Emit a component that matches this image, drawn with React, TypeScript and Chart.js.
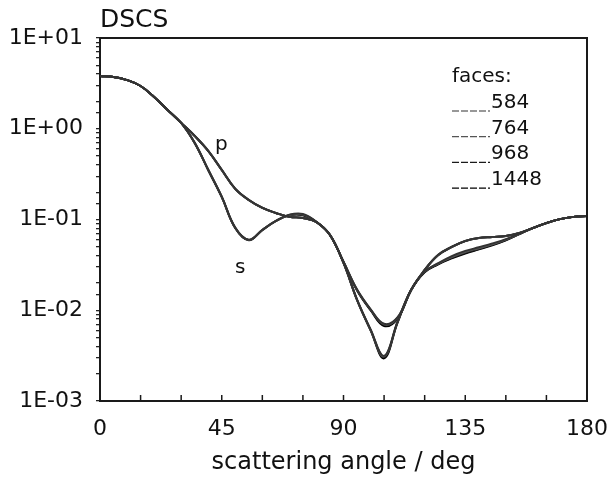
import React, { useEffect, useRef } from 'react';
import { Chart, registerables } from 'chart.js';

Chart.register(...registerables);

// scattering angle (deg)
const angles = [0, 5, 10, 15, 20, 25, 30, 35, 40, 45, 50, 55, 60, 65, 70, 75, 80, 85, 90, 95, 100, 105, 110, 115, 120, 125, 130, 135, 140, 145, 150, 155, 160, 165, 170, 175, 180];

const faces = ['584', '764', '968', '1448'];
const faceColors = ['#333333', '#555555', '#1a1a1a', '#000000'];

// p polarisation, per number of faces
const p584 = [3.81, 3.72, 3.44, 2.96, 2.24, 1.61, 1.16, 0.84, 0.575, 0.355, 0.219, 0.165, 0.135, 0.118, 0.107, 0.104, 0.094, 0.068, 0.0345, 0.0170, 0.0103, 0.0071, 0.0084, 0.0168, 0.0280, 0.0410, 0.0502, 0.0582, 0.0628, 0.0644, 0.0660, 0.0712, 0.0805, 0.0914, 0.101, 0.107, 0.109];
const p764 = [3.81, 3.72, 3.44, 2.96, 2.24, 1.61, 1.16, 0.835, 0.572, 0.352, 0.218, 0.164, 0.134, 0.118, 0.107, 0.104, 0.0938, 0.0676, 0.0342, 0.0168, 0.0102, 0.0070, 0.0083, 0.0167, 0.0279, 0.0408, 0.0500, 0.0580, 0.0626, 0.0642, 0.0659, 0.0711, 0.0805, 0.0914, 0.101, 0.107, 0.109];
const p968 = [3.81, 3.72, 3.44, 2.96, 2.24, 1.61, 1.16, 0.832, 0.569, 0.351, 0.217, 0.164, 0.134, 0.118, 0.107, 0.104, 0.0938, 0.0675, 0.0340, 0.0167, 0.0101, 0.0069, 0.0082, 0.0167, 0.0278, 0.0406, 0.0498, 0.0579, 0.0625, 0.0641, 0.0658, 0.0710, 0.0805, 0.0914, 0.101, 0.107, 0.109];
const p1448 = [3.81, 3.72, 3.44, 2.96, 2.24, 1.61, 1.16, 0.828, 0.566, 0.349, 0.216, 0.163, 0.134, 0.118, 0.107, 0.104, 0.0936, 0.0672, 0.0338, 0.0165, 0.0100, 0.0067, 0.0081, 0.0166, 0.0276, 0.0404, 0.0496, 0.0577, 0.0624, 0.0640, 0.0657, 0.0709, 0.0804, 0.0913, 0.101, 0.107, 0.109];

// s polarisation, per number of faces
const s584 = [3.81, 3.72, 3.44, 2.96, 2.24, 1.61, 1.16, 0.705, 0.356, 0.180, 0.0815, 0.0600, 0.0772, 0.0968, 0.113, 0.115, 0.0945, 0.0680, 0.0336, 0.0132, 0.0062, 0.00315, 0.0076, 0.0170, 0.0268, 0.0330, 0.0395, 0.0450, 0.0495, 0.0545, 0.0608, 0.0700, 0.0808, 0.0915, 0.101, 0.107, 0.109];
const s764 = [3.81, 3.72, 3.44, 2.96, 2.24, 1.61, 1.16, 0.700, 0.353, 0.178, 0.0810, 0.0597, 0.0768, 0.0965, 0.112, 0.113, 0.0940, 0.0677, 0.0334, 0.0131, 0.0061, 0.00310, 0.0075, 0.0168, 0.0266, 0.0327, 0.0385, 0.0438, 0.0482, 0.0532, 0.0600, 0.0696, 0.0806, 0.0914, 0.101, 0.107, 0.109];
const s968 = [3.81, 3.72, 3.44, 2.96, 2.24, 1.61, 1.16, 0.697, 0.351, 0.177, 0.0805, 0.0594, 0.0766, 0.0962, 0.112, 0.112, 0.0938, 0.0675, 0.0332, 0.0130, 0.00605, 0.00305, 0.0074, 0.0167, 0.0264, 0.0323, 0.0377, 0.0428, 0.0473, 0.0524, 0.0594, 0.0692, 0.0805, 0.0914, 0.101, 0.107, 0.109];
const s1448 = [3.81, 3.72, 3.44, 2.96, 2.24, 1.61, 1.16, 0.693, 0.349, 0.176, 0.0800, 0.0590, 0.0763, 0.0960, 0.111, 0.111, 0.0935, 0.0673, 0.0330, 0.0129, 0.0060, 0.00295, 0.0073, 0.0166, 0.0262, 0.0320, 0.0372, 0.0422, 0.0468, 0.0520, 0.0590, 0.0690, 0.0804, 0.0913, 0.101, 0.107, 0.109];

const pSeries = [p584, p764, p968, p1448];
const sSeries = [s584, s764, s968, s1448];

const yTickValues = [10, 1, 0.1, 0.01, 0.001];
const yTickLabels = ['1E+01', '1E+00', '1E-01', '1E-02', '1E-03'];
const xLabelEvery = 45;

// curve labels: [text, angle, value]
const curveLabels: [string, number, number][] = [
  ['p', 42.5, 0.583],
  ['s', 49.9, 0.0257],
];

const FONT = '"DejaVu Sans", "Liberation Sans", Arial, sans-serif';

export default function App() {
  const ref = useRef<HTMLCanvasElement | null>(null);

  useEffect(() => {
    document.body.style.margin = '0';
    const canvas = ref.current;
    if (!canvas) return;

    const datasets: any[] = [];
    faces.forEach((f, i) => {
      datasets.push({
        label: 'p ' + f,
        data: angles.map((a, k) => ({ x: a, y: pSeries[i][k] })),
        borderColor: faceColors[i],
        borderWidth: 1.9,
        pointRadius: 0,
        tension: 0.4,
        fill: false,
      });
      datasets.push({
        label: 's ' + f,
        data: angles.map((a, k) => ({ x: a, y: sSeries[i][k] })),
        borderColor: faceColors[i],
        borderWidth: 1.9,
        pointRadius: 0,
        tension: 0.4,
        fill: false,
      });
    });

    const decor = {
      id: 'decor',
      afterDraw(chart: any) {
        const { ctx, chartArea: a } = chart;
        const xs = chart.scales.x;
        const ys = chart.scales.y;
        ctx.save();
        // top and right frame
        ctx.strokeStyle = '#1a1a1a';
        ctx.lineWidth = 2;
        ctx.beginPath();
        ctx.moveTo(a.left, a.top);
        ctx.lineTo(a.right, a.top);
        ctx.lineTo(a.right, a.bottom);
        ctx.stroke();
        // inward x ticks
        ctx.lineWidth = 1.5;
        ctx.beginPath();
        xs.ticks.forEach((t: any) => {
          const px = xs.getPixelForValue(t.value);
          ctx.moveTo(px, a.bottom);
          ctx.lineTo(px, a.bottom - 6);
        });
        ctx.stroke();
        // y-axis title
        ctx.fillStyle = '#111';
        ctx.font = '25px ' + FONT;
        ctx.textAlign = 'left';
        ctx.textBaseline = 'alphabetic';
        ctx.fillText('DSCS', a.left, a.top - 11);
        // curve labels
        ctx.font = '20px ' + FONT;
        curveLabels.forEach(([txt, ang, val]) => {
          ctx.fillText(txt, xs.getPixelForValue(ang), ys.getPixelForValue(val));
        });
        // legend
        ctx.font = '20px ' + FONT;
        ctx.fillText('faces:', 452, 82);
        faces.forEach((f, i) => {
          const base = 108 + i * 25.7;
          ctx.strokeStyle = faceColors[i];
          ctx.lineWidth = 1.2;
          ctx.setLineDash([7, 2]);
          ctx.beginPath();
          ctx.moveTo(452, base + 3);
          ctx.lineTo(490, base + 3);
          ctx.stroke();
          ctx.setLineDash([]);
          ctx.fillText(f, 491, base);
        });
        ctx.restore();
      },
    };

    const chart = new Chart(canvas, {
      type: 'line',
      data: { datasets },
      options: {
        animation: false,
        responsive: false,
        maintainAspectRatio: false,
        layout: { padding: { top: 38, right: 23, left: 0, bottom: 0 } },
        plugins: { legend: { display: false }, tooltip: { enabled: false } },
        scales: {
          x: {
            type: 'linear',
            min: 0,
            max: 180,
            afterFit: (s: any) => { s.height = 85; s.paddingRight = 0; s.paddingLeft = 0; },
            grid: { display: false },
            border: { display: true, color: '#1a1a1a', width: 2 },
            ticks: {
              stepSize: 15,
              autoSkip: false,
              maxRotation: 0,
              padding: 7,
              color: '#111',
              font: { family: FONT, size: 22 },
              callback: (v: any) => (Number(v) % xLabelEvery === 0 ? String(v) : ''),
            },
            title: {
              display: true,
              text: 'scattering angle / deg',
              color: '#111',
              font: { family: FONT, size: 24 },
              padding: { top: 0, bottom: 9 },
            },
          },
          y: {
            type: 'logarithmic',
            min: 0.001,
            max: 10,
            afterFit: (s: any) => { s.width = 100; s.paddingTop = 0; s.paddingBottom = 0; },
            grid: { display: true, drawOnChartArea: false, drawTicks: true, tickLength: 4, color: '#222', lineWidth: 1.3 },
            border: { display: true, color: '#1a1a1a', width: 2 },
            ticks: {
              autoSkip: false,
              padding: 13,
              color: '#111',
              font: { family: FONT, size: 22 },
              callback: (v: any) => {
                const idx = yTickValues.findIndex((t) => Math.abs(Math.log10(Number(v)) - Math.log10(t)) < 1e-6);
                return idx >= 0 ? yTickLabels[idx] : '';
              },
            },
          },
        },
      },
      plugins: [decor],
    });

    return () => chart.destroy();
  }, []);

  return (
    <div style={{ width: 610, height: 486 }}>
      <canvas ref={ref} width={610} height={486} style={{ display: 'block' }} />
    </div>
  );
}
